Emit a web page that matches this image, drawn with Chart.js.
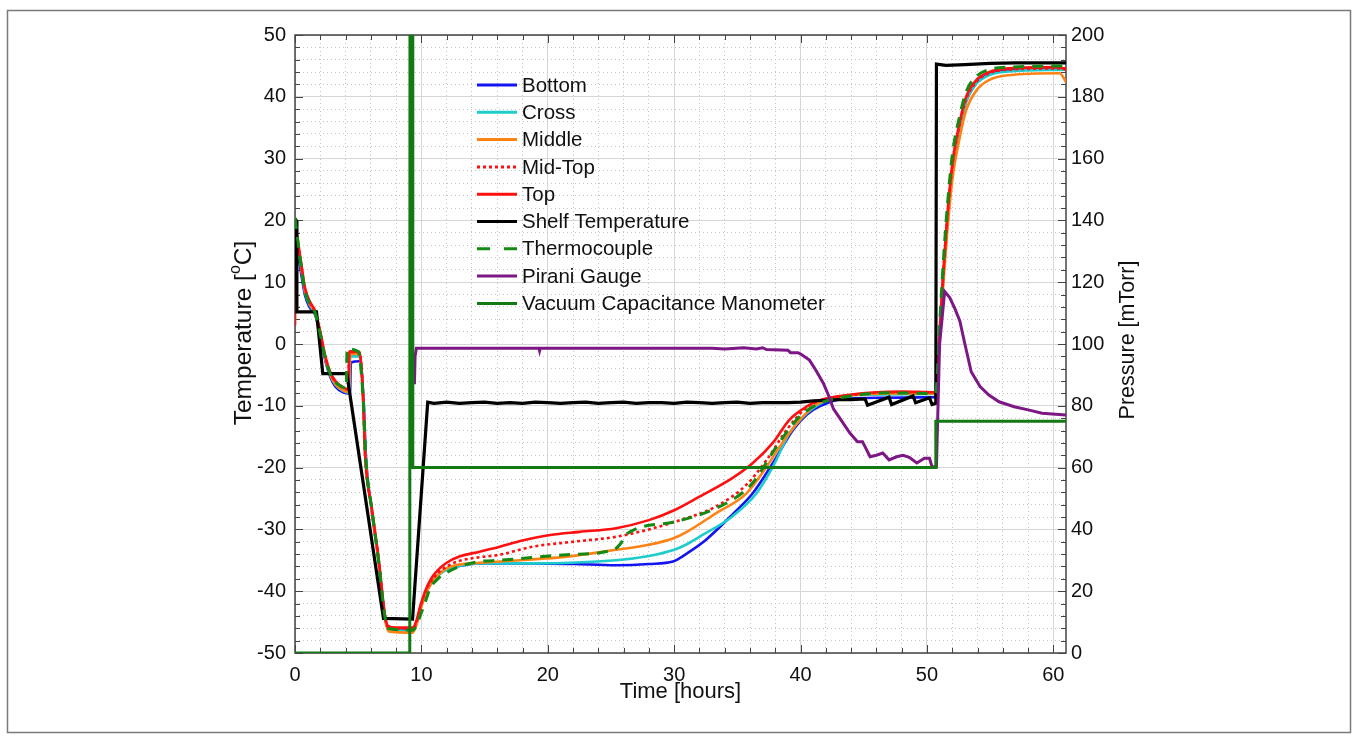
<!DOCTYPE html>
<html><head><meta charset="utf-8">
<script src="https://cdn.jsdelivr.net/npm/chart.js@4.4.1/dist/chart.umd.min.js"></script>
<style>html,body{margin:0;padding:0;background:#fff;}canvas{display:block;}</style>
</head><body>
<canvas id="c" width="1358" height="743"></canvas>
<script>
const FONT = "'Liberation Sans', Arial, Helvetica, sans-serif";

// ---- tick labels ----
const xTicks = [0, 10, 20, 30, 40, 50, 60];
const yLeftTicks = [-50, -40, -30, -20, -10, 0, 10, 20, 30, 40, 50];
const yRightTicks = [0, 20, 40, 60, 80, 100, 120, 140, 160, 180, 200];

// ---- series names ----
const seriesNames = ["Bottom", "Cross", "Middle", "Mid-Top", "Top", "Shelf Temperature", "Thermocouple", "Pirani Gauge", "Vacuum Capacitance Manometer"];

// ---- series values: [time (h), value] ----
const bottomData = [[0,18],[0.4,12.5],[0.8,7.8],[1.2,5.8],[1.6,4.7],[2.0,1.2],[2.4,-2.7],[2.8,-5.4],[3.2,-6.9],[3.8,-7.8],[4.35,-8.0],[4.42,-3.0],[5.15,-2.8],[5.45,-10],[5.6,-17.8],[6.06,-26.7],[6.6,-34.9],[7.1,-44.1],[7.4,-46.1],[9.3,-46.3],[9.6,-45.2],[9.9,-42.8],[10.3,-40.4],[10.7,-38.8],[11.3,-37.4],[12,-36.4],[13,-35.9],[14.6,-35.5],[18.8,-35.5],[22,-35.6],[25.4,-35.8],[28,-35.6],[29.9,-35.2],[30.4,-34.7],[31,-33.9],[32.5,-31.7],[34.7,-27.4],[36.2,-24.2],[37.8,-19.3],[39.4,-13.9],[40.5,-11.4],[41.5,-10.1],[43,-9.0],[46,-8.7],[50.6,-8.6],[50.75,-8.0],[51.0,1],[51.3,11],[51.6,19.5],[52.0,28],[52.6,35.3],[53.1,39.3],[53.9,42.2],[54.9,43.6],[56.5,44.3],[61,44.5]];
const crossData = [[0,18.5],[0.4,13.5],[0.8,8.3],[1.2,6.2],[1.6,4.9],[2.0,1.5],[2.4,-2.4],[2.8,-5.1],[3.2,-6.6],[3.8,-7.6],[4.3,-7.9],[4.37,-2.0],[5.1,-2.0],[5.4,-9.6],[5.55,-17.5],[6.06,-26.6],[6.6,-34.8],[7.1,-44],[7.4,-46.2],[9.3,-46.4],[9.6,-45.3],[9.9,-43],[10.3,-40.6],[10.7,-39],[11.3,-37.5],[12,-36.5],[13,-35.9],[14.6,-35.5],[18.8,-35.5],[25.4,-35.0],[28,-34.3],[30,-33.3],[31,-32.4],[32,-31.2],[34.6,-27.9],[36.5,-24.2],[37.8,-19.9],[39.1,-14.5],[40,-12.2],[41,-10.4],[42.5,-8.8],[45,-8.2],[50.6,-8.1],[50.75,-7.6],[51.0,1],[51.3,11],[51.6,19.5],[52.0,28],[52.6,35.2],[53.1,39.2],[53.9,42.1],[54.9,43.5],[56.5,44.1],[61,44.4]];
const middleData = [[0,19],[0.4,13.8],[0.8,8.6],[1.2,6.4],[1.6,5.0],[2.0,1.6],[2.4,-2.3],[2.8,-5.0],[3.2,-6.5],[3.8,-7.5],[4.28,-7.8],[4.35,-1.6],[5.1,-1.6],[5.4,-9.5],[5.55,-17.6],[6.06,-26.8],[6.6,-35],[7.1,-44.2],[7.4,-46.5],[9.3,-46.7],[9.6,-45.5],[9.9,-43.2],[10.3,-40.6],[10.7,-39],[11.3,-37.4],[12,-36.3],[13,-35.7],[14.6,-35.4],[16.2,-35.2],[21.5,-34.4],[25.4,-33.3],[28,-32.5],[30,-31.4],[31,-30.4],[33.3,-27.4],[35.7,-24.2],[37.3,-19.9],[38.9,-15],[40.7,-10.7],[42,-9],[44,-8.3],[47,-8.0],[50.6,-8.0],[50.75,-7.5],[51.0,0.5],[51.3,10],[51.6,18],[52.0,26.5],[52.6,33.5],[53.1,37.8],[53.9,41.0],[54.9,42.7],[56.5,43.5],[60.5,43.8],[61,42.4]];
const midTopData = [[0,19],[0.4,14],[0.8,8.8],[1.2,6.6],[1.6,5.1],[2.0,1.8],[2.4,-2.1],[2.8,-4.7],[3.2,-6.1],[3.8,-7.1],[4.2,-7.3],[4.28,-1.3],[5.1,-1.4],[5.4,-9.2],[5.53,-17.4],[6.06,-26.5],[6.6,-34.6],[7.1,-43.8],[7.35,-45.8],[9.3,-46.1],[9.6,-45.1],[9.9,-42.7],[10.3,-40.2],[10.7,-38.6],[11.3,-37.1],[12,-36],[13,-35.1],[14.6,-34.5],[16.2,-34.1],[18.8,-32.8],[22,-32],[25.4,-31.2],[28,-30],[30,-28.8],[33.3,-26.3],[35.7,-22.8],[37.3,-18.8],[38.9,-13.9],[40.4,-10.4],[41.5,-9.2],[44,-8.3],[47,-7.8],[50.6,-7.8],[50.75,-7.2],[51.0,1.5],[51.3,11.5],[51.6,20],[52.0,28.6],[52.6,35.6],[53.1,39.6],[53.9,42.4],[54.9,43.8],[56.5,44.4],[61,44.6]];
const topData = [[0,3],[0.03,18.5],[0.4,14.3],[0.8,9.0],[1.2,6.8],[1.6,5.3],[2.0,2.0],[2.4,-2.0],[2.8,-4.6],[3.2,-6.0],[3.8,-7.0],[4.22,-7.4],[4.3,-1.2],[5.1,-1.3],[5.25,-3.5],[5.4,-9.0],[5.53,-17.2],[6.06,-26.3],[6.6,-34.4],[7.1,-43.6],[7.35,-45.6],[8,-45.9],[9.3,-45.9],[9.6,-44.8],[9.9,-42.5],[10.3,-40],[10.7,-38.2],[11.3,-36.6],[12,-35.4],[13,-34.4],[14.6,-33.6],[16.2,-32.8],[18,-31.8],[20.2,-30.9],[22.5,-30.4],[25.4,-29.8],[28,-28.5],[30,-26.9],[32,-24.7],[34.6,-21.7],[36.2,-19.3],[37.8,-16.0],[39.1,-12.3],[40.5,-10.1],[41.5,-9.1],[43.9,-8.2],[46,-7.8],[48,-7.7],[50.6,-7.8],[50.75,-7.0],[51.0,2.0],[51.3,12],[51.6,20.5],[52.0,29.0],[52.6,36.0],[53.1,40.0],[53.9,42.7],[54.9,44.0],[56.5,44.6],[60.5,44.8],[61,44.3]];
const shelfData = [[0,20.3],[0.1,20],[0.15,5.2],[1.7,5.2],[2.2,-4.8],[4.1,-4.8],[7.0,-44.4],[9.3,-44.5],[10.5,-9.4],[11,-9.6],[12,-9.4],[13,-9.6],[14,-9.5],[15,-9.4],[16,-9.6],[17,-9.5],[18,-9.6],[19,-9.4],[20,-9.5],[21,-9.6],[22,-9.5],[23,-9.4],[24,-9.6],[25,-9.5],[26,-9.4],[27,-9.6],[28,-9.5],[29,-9.5],[30,-9.6],[31,-9.4],[32,-9.5],[33,-9.6],[34,-9.5],[35,-9.4],[36,-9.6],[37,-9.5],[38,-9.5],[39,-9.5],[40,-9.4],[41,-9.2],[42,-9.1],[43,-9.0],[44,-9.0],[45.1,-8.9],[45.3,-9.9],[47.0,-8.6],[47.2,-9.8],[48.9,-8.4],[49.1,-9.5],[50.2,-8.7],[50.4,-9.8],[50.7,-9.6],[50.75,45.3],[51.5,45.1],[53,45.2],[55,45.4],[57,45.5],[59,45.5],[61,45.5]];
const thermoData = [[0,20.4],[0.3,15.5],[0.8,8.5],[1.2,6.4],[1.6,5.0],[2.0,1.5],[2.4,-2.3],[2.8,-4.9],[3.2,-6.2],[3.8,-7.0],[4.05,-7.2],[4.12,-0.8],[5.0,-1.2],[5.3,-6],[5.45,-11],[5.6,-18.5],[6.1,-27],[6.6,-35],[7.1,-44],[7.35,-46],[9.3,-46.3],[9.6,-45.6],[9.9,-44],[10.3,-41.8],[10.7,-39.5],[11.3,-38],[12,-37.0],[13,-36],[14.6,-35.2],[16.2,-35.0],[21.5,-34.1],[25.2,-33.3],[25.8,-32.2],[26.2,-30.8],[30,-28.8],[34.6,-25.2],[36.2,-22.5],[38.1,-16.6],[39.9,-11.8],[41.5,-9.6],[44,-8.4],[47,-7.9],[50.6,-8.0],[50.75,-7.0],[51.0,3],[51.3,13.5],[51.6,22],[52.0,30.5],[52.6,37],[53.1,40.8],[53.9,43.3],[54.9,44.4],[56.5,44.8],[61,45.0]];
const piraniData = [[9.45,87],[9.5,96],[9.6,98.6],[19.3,98.6],[19.35,97.8],[19.4,98.6],[33,98.6],[34,98.4],[35.5,98.8],[36.5,98.4],[37.0,98.8],[37.3,98.2],[39.0,98.0],[39.2,97.2],[39.8,97.2],[40.1,96.5],[40.7,94.8],[41.2,91.6],[41.8,87.3],[42.2,83.5],[42.6,79],[43.1,76],[43.9,71.2],[44.5,68.4],[44.9,68.4],[45.5,63.5],[46.0,64],[46.5,64.7],[47.0,62.5],[47.6,63.5],[48.1,64],[48.6,63.3],[49.2,61.5],[49.8,63],[50.2,63],[50.4,60.3],[50.75,60.3],[51.0,100],[51.4,117],[51.8,115],[52.2,111.5],[52.6,107.5],[53.0,100],[53.5,91],[54.2,86.2],[54.9,83.5],[55.7,81.3],[56.9,79.7],[58.1,78.6],[59.1,77.6],[61,77]];
const vacuumData = [[0,0],[9.08,0],[9.1,260],[9.3,260],[9.32,60],[50.65,60],[50.7,75],[61,75]];

const pts = a => a.map(p => ({x: p[0], y: p[1]}));
const minorOf = (min, max, step, major) => { const r = []; for (let v = min; v <= max + 1e-9; v += step) if (Math.abs(v % major) > 1e-6) r.push(v); return r; };
const xMinor = minorOf(0, 61, 2, 10);
const yMinor = minorOf(-50, 50, 2, 10);

const mk = (i, data, color, width, dash, axis, order, smooth) => ({
  label: seriesNames[i], data: pts(data), borderColor: color, backgroundColor: color,
  borderWidth: width, borderDash: dash, pointRadius: 0, fill: false,
  cubicInterpolationMode: smooth ? 'monotone' : 'default', tension: 0,
  xAxisID: 'x', yAxisID: axis, order: order
});

const datasets = [
  mk(0, bottomData, '#1414f0', 2.6, [], 'y', 9, true),
  mk(1, crossData, '#1ecccc', 2.6, [], 'y', 8, true),
  mk(2, middleData, '#ff8214', 2.6, [], 'y', 7, true),
  mk(3, midTopData, '#ff1010', 2.6, [3, 3], 'y', 6, true),
  mk(4, topData, '#ff1010', 2.6, [], 'y', 5, true),
  mk(5, shelfData, '#000000', 3.2, [], 'y', 4, false),
  mk(6, thermoData, '#138a13', 3, [11, 8], 'y', 3, true),
  mk(7, piraniData, '#7d1785', 3, [], 'y2', 2, false),
  mk(8, vacuumData, '#137a13', 3, [], 'y2', 1, false)
];

const setTicks = arr => scale => { scale.ticks = arr.map(v => ({value: v})); };

const framePlugin = {
  id: 'frame',
  beforeDatasetsDraw(chart) {
    const {ctx, chartArea: a, scales} = chart;
    ctx.save();
    ctx.strokeStyle = '#444'; ctx.lineWidth = 1;
    ctx.beginPath();
    xMinor.concat(xTicks).forEach(v => {
      const px = Math.round(scales.x.getPixelForValue(v)) + 0.5;
      const len = xTicks.includes(v) ? 8 : 5;
      ctx.moveTo(px, a.bottom); ctx.lineTo(px, a.bottom - len);
      ctx.moveTo(px, a.top); ctx.lineTo(px, a.top + len);
    });
    yMinor.concat(yLeftTicks).forEach(v => {
      const py = Math.round(scales.y.getPixelForValue(v)) + 0.5;
      const len = yLeftTicks.includes(v) ? 8 : 5;
      ctx.moveTo(a.left, py); ctx.lineTo(a.left + len, py);
      ctx.moveTo(a.right, py); ctx.lineTo(a.right - len, py);
    });
    ctx.stroke();
    ctx.strokeStyle = '#444'; ctx.lineWidth = 1.5;
    ctx.strokeRect(a.left, a.top, a.right - a.left, a.bottom - a.top);
    ctx.restore();
  },
  afterDraw(chart) {
    const {ctx, chartArea: a} = chart;
    ctx.save();
    ctx.strokeStyle = '#7a7a7a'; ctx.lineWidth = 1.5;
    ctx.strokeRect(7.5, 10.5, 1343, 722);
    // legend
    ctx.font = '20.5px ' + FONT; ctx.textBaseline = 'middle'; ctx.textAlign = 'left';
    chart.data.datasets.forEach((ds, i) => {
      const y = 85 + i * 27.3;
      ctx.strokeStyle = ds.borderColor; ctx.lineWidth = 3;
      ctx.setLineDash(ds.borderDash && ds.borderDash.length ? (i === 6 ? [13, 14] : [3, 3]) : []);
      ctx.beginPath(); ctx.moveTo(477, y); ctx.lineTo(517, y); ctx.stroke();
      ctx.setLineDash([]);
      ctx.fillStyle = '#111';
      ctx.fillText(ds.label, 522, y + 1);
    });
    // axis titles
    const cx = (a.left + a.right) / 2, cy = (a.top + a.bottom) / 2;
    ctx.font = '22px ' + FONT; ctx.fillStyle = '#111'; ctx.textAlign = 'center';
    ctx.fillText('Time [hours]', cx, 692);
    ctx.save(); ctx.translate(1128, cy - 4); ctx.rotate(-Math.PI / 2);
    ctx.font = '21.5px ' + FONT;
    ctx.fillText('Pressure [mTorr]', 0, 0); ctx.restore();
    ctx.save(); ctx.translate(244, cy - 11); ctx.rotate(-Math.PI / 2);
    const p1 = 'Temperature [', p2 = 'o', p3 = 'C]';
    const big = '24.5px ' + FONT, small = '16px ' + FONT;
    ctx.font = big; const w1 = ctx.measureText(p1).width, w3 = ctx.measureText(p3).width;
    ctx.font = small; const w2 = ctx.measureText(p2).width;
    const tot = w1 + w2 + w3; let x0 = -tot / 2;
    ctx.textAlign = 'left';
    ctx.font = big; ctx.fillText(p1, x0, 0);
    ctx.font = small; ctx.fillText(p2, x0 + w1, -8);
    ctx.font = big; ctx.fillText(p3, x0 + w1 + w2, 0);
    ctx.restore();
    ctx.restore();
  }
};

const tickFont = {family: FONT, size: 20};
new Chart(document.getElementById('c'), {
  type: 'line',
  data: {datasets},
  options: {
    responsive: false, animation: false, devicePixelRatio: 1,
    layout: {padding: {top: 35, left: 0, right: 0, bottom: 0}},
    plugins: {legend: {display: false}, tooltip: {enabled: false}},
    scales: {
      x: {type: 'linear', position: 'bottom', min: 0, max: 61,
        afterBuildTicks: setTicks(xTicks), afterFit: s => { s.height = 90; },
        grid: {color: '#d6d6d6', lineWidth: 1, drawTicks: false}, border: {display: false},
        ticks: {font: tickFont, color: '#111', padding: 10, maxRotation: 0, autoSkip: false}},
      xm: {type: 'linear', position: 'bottom', min: 0, max: 61,
        afterBuildTicks: setTicks(xMinor), afterFit: s => { s.height = 0; },
        grid: {color: '#c4c4c4', lineWidth: 1, drawTicks: false}, border: {display: false, dash: [1, 3]},
        ticks: {display: false}},
      y: {type: 'linear', position: 'left', min: -50, max: 50,
        afterBuildTicks: setTicks(yLeftTicks), afterFit: s => { s.width = 295; },
        grid: {color: '#d6d6d6', lineWidth: 1, drawTicks: false}, border: {display: false},
        ticks: {font: tickFont, color: '#111', padding: 9, autoSkip: false}},
      ym: {type: 'linear', position: 'left', min: -50, max: 50,
        afterBuildTicks: setTicks(yMinor), afterFit: s => { s.width = 0; },
        grid: {color: '#c4c4c4', lineWidth: 1, drawTicks: false}, border: {display: false, dash: [1, 3]},
        ticks: {display: false}},
      y2: {type: 'linear', position: 'right', min: 0, max: 200,
        afterBuildTicks: setTicks(yRightTicks), afterFit: s => { s.width = 292; },
        grid: {display: false, drawTicks: false}, border: {display: false},
        ticks: {font: tickFont, color: '#111', padding: 5, autoSkip: false}}
    }
  },
  plugins: [framePlugin]
});
</script>
</body></html>
